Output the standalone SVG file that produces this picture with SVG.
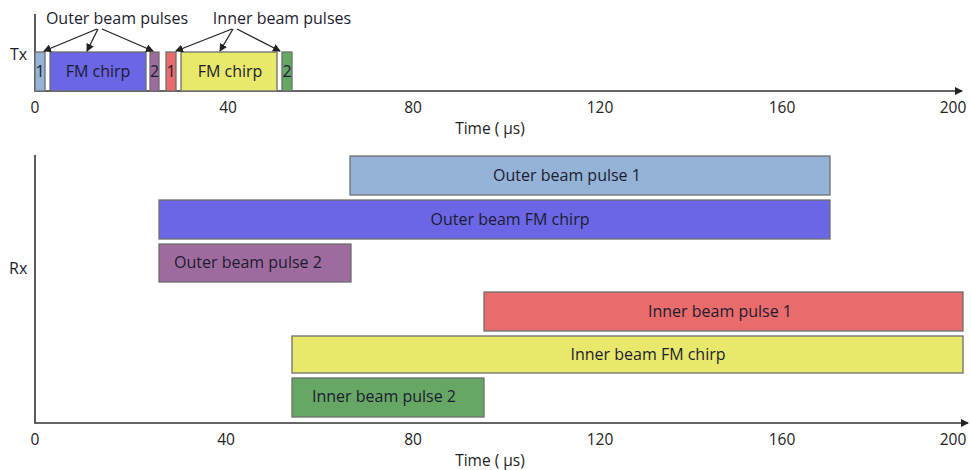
<svg xmlns="http://www.w3.org/2000/svg" width="971" height="470" viewBox="0 0 971 470">
<style>
text{font-family:"Open Sans","Liberation Sans",sans-serif;fill:#1c1c30}
.lab{font-size:16px}
.tick{font-size:15.5px;text-anchor:middle;fill:#222}
.box{stroke:#6e6e6e;stroke-width:1.3}
.ax{stroke:#333;stroke-width:1.6;fill:none}
.ar{stroke:#222;stroke-width:1.3;fill:none}
.c1{fill:#95b3d7}.c2{fill:#6a66e6}.c3{fill:#9e6b9f}.c4{fill:#e96b6b}.c5{fill:#e8e86a}.c6{fill:#66a766}
.mid{text-anchor:middle}
</style>
<defs>
<marker id="ah" markerWidth="8" markerHeight="8" refX="7" refY="4" orient="auto" markerUnits="userSpaceOnUse"><path d="M0,0 L8,4 L0,8 z" fill="#222"/></marker>
</defs>
<g id="axes">
<path class="ax" d="M35,14 V91 H962" marker-end="url(#ah)"/>
<path class="ax" d="M35,155 V423 H968" marker-end="url(#ah)"/>
<text class="lab" x="10" y="60">Tx</text>
<text class="lab" x="9" y="274">Rx</text>
<text class="tick" x="35" y="113">0</text>
<text class="tick" x="228" y="113">40</text>
<text class="tick" x="413" y="113">80</text>
<text class="tick" x="600" y="113">120</text>
<text class="tick" x="782" y="113">160</text>
<text class="tick" x="953" y="113">200</text>
<text class="tick" x="490" y="134">Time ( μs)</text>
<text class="tick" x="35" y="445">0</text>
<text class="tick" x="226" y="445">40</text>
<text class="tick" x="413" y="445">80</text>
<text class="tick" x="600" y="445">120</text>
<text class="tick" x="782" y="445">160</text>
<text class="tick" x="953" y="445">200</text>
<text class="tick" x="490" y="466">Time ( μs)</text>
</g>
<g id="tx-outer-p1"><rect class="box c1" x="35" y="52" width="10" height="39"/><text class="lab mid" x="40" y="77">1</text></g>
<g id="tx-outer-chirp"><rect class="box c2" x="50" y="52" width="96" height="39"/><text class="lab mid" x="98" y="77">FM chirp</text></g>
<g id="tx-outer-p2"><rect class="box c3" x="150" y="52" width="9" height="39"/><text class="lab mid" x="154.5" y="77">2</text></g>
<g id="tx-inner-p1"><rect class="box c4" x="166" y="52" width="10" height="39"/><text class="lab mid" x="171" y="77">1</text></g>
<g id="tx-inner-chirp"><rect class="box c5" x="181" y="52" width="96" height="39"/><text class="lab mid" x="230" y="77">FM chirp</text></g>
<g id="tx-inner-p2"><rect class="box c6" x="282" y="52" width="10" height="39"/><text class="lab mid" x="287" y="77">2</text></g>
<g id="tx-labels">
<text class="lab mid" x="117" y="24">Outer beam pulses</text>
<text class="lab mid" x="282" y="24">Inner beam pulses</text>
</g>
<g id="connectors">
<line class="ar" x1="97" y1="29" x2="44" y2="51" marker-end="url(#ah)"/>
<line class="ar" x1="98" y1="29" x2="87" y2="51" marker-end="url(#ah)"/>
<line class="ar" x1="102" y1="29" x2="153" y2="51" marker-end="url(#ah)"/>
<line class="ar" x1="232" y1="29" x2="176" y2="51" marker-end="url(#ah)"/>
<line class="ar" x1="233" y1="29" x2="220" y2="51" marker-end="url(#ah)"/>
<line class="ar" x1="237" y1="29" x2="280" y2="51" marker-end="url(#ah)"/>
</g>
<g id="rx-outer-p1"><rect class="box c1" x="350" y="156" width="480" height="39"/><text class="lab mid" x="567" y="181">Outer beam pulse 1</text></g>
<g id="rx-outer-chirp"><rect class="box c2" x="159" y="200" width="671" height="39"/><text class="lab mid" x="510" y="225">Outer beam FM chirp</text></g>
<g id="rx-outer-p2"><rect class="box c3" x="159" y="244" width="192" height="38"/><text class="lab" x="174" y="268">Outer beam pulse 2</text></g>
<g id="rx-inner-p1"><rect class="box c4" x="484" y="292" width="479" height="39"/><text class="lab mid" x="720" y="317">Inner beam pulse 1</text></g>
<g id="rx-inner-chirp"><rect class="box c5" x="292" y="336" width="671" height="37"/><text class="lab mid" x="648" y="360">Inner beam FM chirp</text></g>
<g id="rx-inner-p2"><rect class="box c6" x="292" y="378" width="192" height="39"/><text class="lab" x="312" y="402">Inner beam pulse 2</text></g>
</svg>
